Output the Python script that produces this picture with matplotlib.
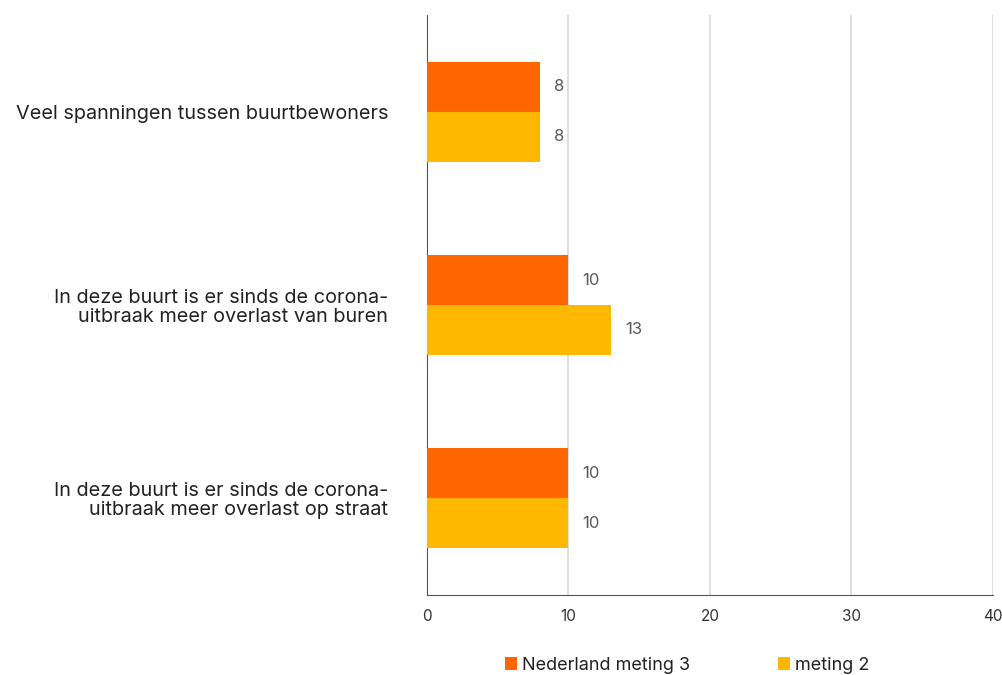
import matplotlib.pyplot as plt
import numpy as np

plt.rcParams['font.family'] = ['Inter', 'DejaVu Sans']

# data
categories = ['Veel spanningen tussen buurtbewoners',
              'In deze buurt is er sinds de corona-\nuitbraak meer overlast van buren',
              'In deze buurt is er sinds de corona-\nuitbraak meer overlast op straat']
meting3 = [8, 10, 10]
meting2 = [8, 13, 10]
series_names = ['Nederland meting 3', 'meting 2']
colors = ['#FF6600', '#FFB800']

fig = plt.figure(figsize=(10.03, 6.75), dpi=100)
ax = fig.add_axes([0.4257, 0.1185, 0.5643, 0.8593])

y = np.arange(len(categories))
h = 0.258
b1 = ax.barh(y - h / 2, meting3, height=h, color=colors[0], label=series_names[0], zorder=3)
b2 = ax.barh(y + h / 2, meting2, height=h, color=colors[1], label=series_names[1], zorder=3)

# waardes naast de balken
for bars in (b1, b2):
    for rect in bars:
        w = rect.get_width()
        ax.annotate(f'{w:g}', (w, rect.get_y() + rect.get_height() / 2),
                    xytext=(14, 0), textcoords='offset pixels',
                    va='center', ha='left', fontsize=12, color='#595959')

ax.set_xlim(0, 40)
ax.set_ylim(2.5, -0.5)
ax.set_xticks([0, 10, 20, 30, 40])
ax.set_yticks(y)
ax.set_yticklabels(categories, fontsize=14.3, color='#222222', ha='right', linespacing=1.05)
ax.tick_params(axis='y', length=0, pad=28)
ax.tick_params(axis='x', length=0, pad=10, labelsize=11, labelcolor='#333333')
ax.grid(axis='x', color='#d9d9d9', linewidth=1.2, zorder=0)
for s in ['top', 'right']:
    ax.spines[s].set_visible(False)
ax.spines['left'].set_color('#555555')
ax.spines['bottom'].set_color('#555555')

fig.legend(handles=[b1, b2], labels=series_names, loc='lower left',
           bbox_to_anchor=(0.487, -0.022), ncol=2, frameon=False,
           fontsize=13, handlelength=0.7, handleheight=0.7, handletextpad=0.25,
           columnspacing=4.85, labelcolor='#222222')

plt.savefig('out.png', dpi=100)
